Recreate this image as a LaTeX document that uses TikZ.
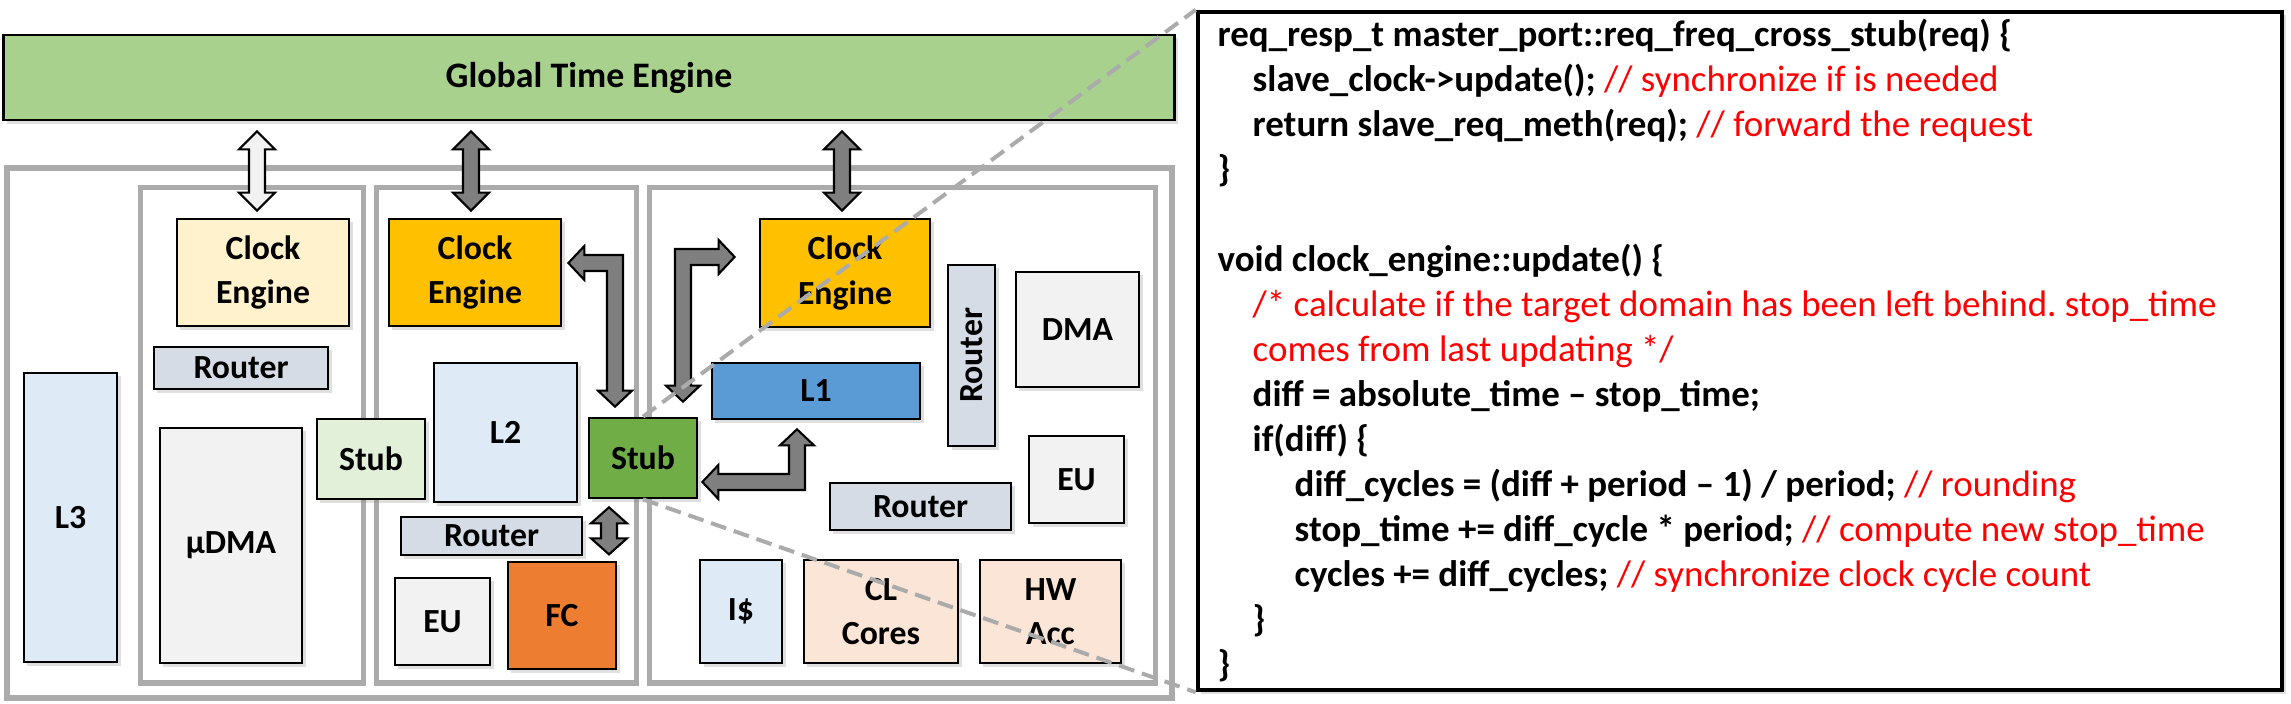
\documentclass[tikz,border=0pt]{standalone}
\usepackage{fontspec}
\setmainfont{Carlito}
\usetikzlibrary{calc,shadows}
\frenchspacing

\definecolor{gteGreen}{HTML}{A9D18E}
\definecolor{clkLight}{HTML}{FFF2CC}
\definecolor{clkOrange}{HTML}{FFC000}
\definecolor{routerGray}{HTML}{D6DCE5}
\definecolor{memBlue}{HTML}{DEEBF7}
\definecolor{unitGray}{HTML}{F2F2F2}
\definecolor{stubLight}{HTML}{E2F0D9}
\definecolor{stubGreen}{HTML}{70AD47}
\definecolor{fcOrange}{HTML}{ED7D31}
\definecolor{lOneBlue}{HTML}{5B9BD5}
\definecolor{corePeach}{HTML}{FBE5D6}
\definecolor{arrowGray}{HTML}{7F7F7F}
\definecolor{frameGray}{HTML}{ABABAB}
\definecolor{codeRed}{HTML}{FF0000}

\newcommand{\cmt}[1]{\textcolor{codeRed}{\mdseries #1}}
%% straight double block arrow: [head length]{top tip}{bottom tip}{fill}
\newcommand{\vlink}[4][18]{%
  \draw[arrowDecorate, fill=#4] (#2) -- ++(18,#1) -- ++(-10,0)
    -- ($(#3)+(8,-#1)$) -- ++(10,0) -- (#3) -- ++(-18,-#1) -- ++(10,0)
    -- ($(#2)+(-8,#1)$) -- ++(-10,0) -- cycle;}

\begin{document}
\begin{tikzpicture}
[x=0.01cm, y=-0.01cm,
  blockDecorate/.style={draw=black, line width=0.75pt, inner sep=0pt, align=center,
    font=\fontsize{9.6pt}{12.6pt}\selectfont\bfseries,
    drop shadow={shadow xshift=1pt, shadow yshift=-1pt, opacity=0.25}},%
  frameDecorate/.style={draw=frameGray, line width=0.05cm},%
  arrowDecorate/.style={draw=black, line width=0.6pt, fill=arrowGray, line join=miter},%
  zoomDecorate/.style={draw=frameGray, line width=0.04cm, dash pattern=on 0.16cm off 0.08cm},%
  codeDecorate/.style={anchor=base west, inner sep=0pt,
    font=\fontsize{10.5pt}{12.8pt}\selectfont\bfseries}]
\useasboundingbox (0,0) rectangle (2291,704);
%% domain frames
\draw[frameDecorate, line width=0.06cm] (7,168) rectangle (1172,698);
\draw[frameDecorate] (140,188) rectangle (363,683);
\draw[frameDecorate] (376,188) rectangle (636,683);
\draw[frameDecorate] (649,188) rectangle (1155,683);
%% blocks
\node (gte) at (589,77.5) [blockDecorate, fill=gteGreen, minimum width=11.70cm,
  minimum height=0.85cm, font=\fontsize{10.2pt}{12pt}\selectfont\bfseries]
  {Global Time Engine};
\foreach \name/\x/\y/\w/\h/\col/\txt in {
  ce1/263/272.5/1.72/1.07/clkLight/Clock\\Engine,
  ce2/475/272.5/1.72/1.07/clkOrange/Clock\\Engine,
  ce3/845/273/1.70/1.08/clkOrange/Clock\\Engine,
  rt1/241/368/1.74/0.42/routerGray/Router,
  l3/70.5/517.5/0.93/2.89/memBlue/L3,
  udma/231/545.5/1.42/2.35/unitGray/µDMA,
  stubA/371/459/1.08/0.80/stubLight/Stub,
  l2/505.5/432.5/1.43/1.39/memBlue/L2,
  rt2/491.5/536/1.81/0.38/routerGray/Router,
  eu1/442.5/621.5/0.95/0.87/unitGray/EU,
  fc/562/615.5/1.08/1.07/fcOrange/FC,
  stubB/643/458/1.08/0.80/stubGreen/Stub,
  l1/816/391/2.08/0.56/lOneBlue/L1,
  dma/1077.5/329.5/1.23/1.15/unitGray/DMA,
  eu2/1076.5/479.5/0.95/0.87/unitGray/EU,
  rt3/920.5/506.5/1.81/0.47/routerGray/Router,
  icache/741/611.5/0.82/1.03/memBlue/I\$,
  cores/881/611.5/1.54/1.03/corePeach/CL\\Cores,
  hwacc/1050.5/611.5/1.41/1.03/corePeach/HW\\Acc}
{
  \node (\name) at (\x,\y) [blockDecorate, fill=\col, minimum width=\w cm,
    minimum height=\h cm] {\txt};
}
\node (rt4) at (971.5,355.5) [blockDecorate, fill=routerGray, rotate=90,
  minimum width=1.81cm, minimum height=0.47cm] {Router};
%% arrow ends
\coordinate (g1t) at ($(ce1.north |- gte.south)+(-6,10)$);
\coordinate (g1b) at ($(ce1.north)+(-6,-7)$);
\coordinate (g2t) at ($(ce2.north |- gte.south)+(-4,10)$);
\coordinate (g2b) at ($(ce2.north)+(-4,-7)$);
\coordinate (g3t) at ($(ce3.north |- gte.south)+(-3,10)$);
\coordinate (g3b) at ($(ce3.north)+(-3,-7)$);
\coordinate (aT1) at ($(ce2.east)+(6,-9.5)$);
\coordinate (aT2) at ($(stubB.north)+(-28,-10)$);
\coordinate (bT1) at ($(stubB.north)+(40,-15)$);
\coordinate (bT2) at ($(ce3.west)+(-24,-16)$);
\coordinate (cT1) at ($(stubB.east)+(4,24)$);
\coordinate (cT2) at ($(l1.south)+(-19,9)$);
\coordinate (dT) at ($(stubB.south)+(-34,8)$);
\coordinate (dB) at ($(stubB.south)+(-34,55)$);
%% arrows
\vlink{g1t}{g1b}{unitGray}
\vlink{g2t}{g2b}{arrowGray}
\vlink{g3t}{g3b}{arrowGray}
\vlink[16]{dT}{dB}{arrowGray}
\draw[arrowDecorate] (aT1) -- ++(16,-17) -- ++(0,9) -| ($(aT2)+(8,-16)$)
  -- ++(9,0) -- (aT2) -- ++(-17,-16) -- ++(9,0) |- ($(aT1)+(16,8)$)
  -- ++(0,9) -- cycle;
\draw[arrowDecorate] (bT2) -- ++(-16,-17) -- ++(0,9) -| ($(bT1)+(-8,-16)$)
  -- ++(-9,0) -- (bT1) -- ++(17,-16) -- ++(-9,0) |- ($(bT2)+(-16,8)$)
  -- ++(0,9) -- cycle;
\draw[arrowDecorate] (cT1) -- ++(16,-17) -- ++(0,9) -| ($(cT2)+(-8,16)$)
  -- ++(-9,0) -- (cT2) -- ++(17,16) -- ++(-9,0) |- ($(cT1)+(16,8)$)
  -- ++(0,9) -- cycle;
%% code listing
\node (codebox) at (1740,351) [draw=black, line width=0.04cm, fill=white,
  minimum width=10.84cm, minimum height=6.78cm,
  drop shadow={shadow xshift=1pt, shadow yshift=-1pt, opacity=0.25}] {};
\foreach \y/\ind/\txt in {
  47/0/{req\_resp\_t master\_port::req\_freq\_cross\_stub(req) \{},
  92/35/{slave\_clock->update(); \cmt{// synchronize if is needed}},
  137/35/{return slave\_req\_meth(req); \cmt{// forward the request}},
  182/0/{\}},
  272/0/{void clock\_engine::update() \{},
  317/35/{\cmt{/* calculate if the target domain has been left behind. stop\_time}},
  362/35/{\cmt{comes from last updating */}},
  407/35/{diff = absolute\_time -- stop\_time;},
  452/35/{if(diff) \{},
  497/77/{diff\_cycles = (diff + period -- 1) / period; \cmt{// rounding}},
  542/77/{stop\_time += diff\_cycle * period; \cmt{// compute new stop\_time}},
  587/77/{cycles += diff\_cycles; \cmt{// synchronize clock cycle count}},
  632/35/{\}},
  677/0/{\}}}
{
  \node[codeDecorate] (code\y) at ({1217+\ind},\y) {\txt};
}
%% zoom lines
\draw[zoomDecorate] (stubB.north) -- (codebox.north west);
\draw[zoomDecorate] (stubB.south) -- (codebox.south west);
\end{tikzpicture}
\end{document}
